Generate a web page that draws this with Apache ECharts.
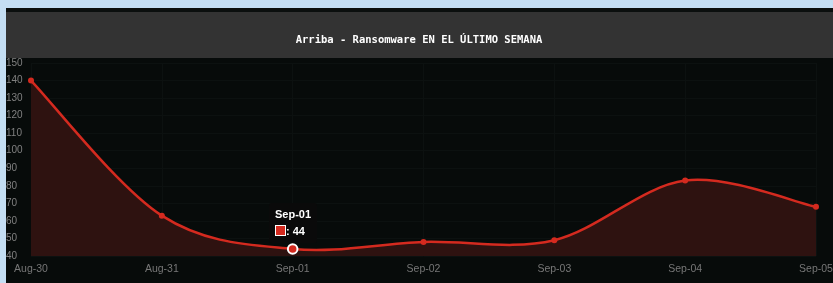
<!DOCTYPE html>
<html>
<head>
<meta charset="utf-8">
<script src="https://cdn.jsdelivr.net/npm/echarts@6/dist/echarts.min.js"></script>
<style>
  html, body { margin: 0; padding: 0; }
  body { width: 833px; height: 283px; background: #c4def3; overflow: hidden; position: relative; }
  #chart { position: absolute; left: 6px; top: 8px; width: 827px; height: 275px; background: #070b0a; }
</style>
</head>
<body>
<div id="chart"></div>
<script>
const titleText = "Arriba - Ransomware EN EL ÚLTIMO SEMANA";
const days = ["Aug-30", "Aug-31", "Sep-01", "Sep-02", "Sep-03", "Sep-04", "Sep-05"];
const attacks = [140, 63, 44, 48, 49, 83, 68];
const yMin = 40;
const yMax = 150;
const yStep = 10;

const lineColor = "#d42a1f";
const areaColor = "#2e1210";

const chart = echarts.init(document.getElementById("chart"));

// spline (catmull-rom) through the data points, drawn on the chart's own axes
function renderSpline(params, api) {
  if (params.dataIndex !== 0) return null;
  const pts = attacks.map((v, i) => api.coord([i, v]));
  const base = api.coord([0, yMin])[1];
  let d = "M" + pts[0][0] + " " + pts[0][1];
  for (let i = 0; i < pts.length - 1; i++) {
    const p0 = pts[i - 1] || pts[i];
    const p1 = pts[i];
    const p2 = pts[i + 1];
    const p3 = pts[i + 2] || pts[i + 1];
    const c1x = p1[0] + (p2[0] - p0[0]) / 6;
    const c1y = p1[1] + (p2[1] - p0[1]) / 6;
    const c2x = p2[0] - (p3[0] - p1[0]) / 6;
    const c2y = p2[1] - (p3[1] - p1[1]) / 6;
    d += " C" + c1x + " " + c1y + " " + c2x + " " + c2y + " " + p2[0] + " " + p2[1];
  }
  const last = pts[pts.length - 1];
  const area = d + " L" + last[0] + " " + base + " L" + pts[0][0] + " " + base + " Z";
  return {
    type: "group",
    children: [
      { type: "path", shape: { pathData: area }, style: { fill: areaColor, stroke: null } },
      { type: "path", shape: { pathData: d }, style: { fill: null, stroke: lineColor, lineWidth: 2.5 } }
    ]
  };
}

const option = {
  animation: false,
  backgroundColor: "#070b0a",
  graphic: [
    { type: "rect", left: 0, top: 0, shape: { width: 827, height: 4 }, style: { fill: "#0b0f0e" } },
    { type: "rect", left: 0, top: 4, shape: { width: 827, height: 46 }, style: { fill: "#333333" } }
  ],
  title: {
    text: titleText,
    left: 408,
    textAlign: "center",
    top: 22,
    textStyle: {
      color: "#ffffff",
      fontFamily: "DejaVu Sans Mono",
      fontWeight: "bold",
      fontSize: 10.5
    }
  },
  tooltip: {
    trigger: "item",
    triggerOn: "none",
    alwaysShowContent: true,
    backgroundColor: "#0a0a0a",
    borderWidth: 0,
    padding: [3, 6],
    extraCssText: "box-shadow:none;border-radius:3px;",
    textStyle: { color: "#fff", fontSize: 11, fontWeight: "bold", fontFamily: "Liberation Sans" },
    position: function (point, params, dom, rect, size) {
      return [point[0] - size.contentSize[0] / 2, point[1] - size.contentSize[1] - 6];
    },
    formatter: function (p) {
      return '<div style="text-align:center;line-height:17px">' + p.name + '</div>' +
        '<div style="line-height:17px"><span style="display:inline-block;width:9px;height:9px;background:' + lineColor + ';border:1px solid #fff;vertical-align:-1px"></span>: ' + p.value + '</div>';
    }
  },
  grid: { left: 25, right: 17, top: 55, bottom: 27, outerBoundsMode: "none", containLabel: false },
  xAxis: {
    type: "category",
    data: days,
    boundaryGap: false,
    axisLine: { show: false },
    axisTick: { show: false },
    splitLine: { show: true, lineStyle: { color: "#0c1110" } },
    axisLabel: {
      color: "#777777",
      fontSize: 10.5,
      fontFamily: "Liberation Sans",
      margin: 8,
      interval: 0
    }
  },
  yAxis: {
    type: "value",
    min: yMin,
    max: yMax,
    interval: yStep,
    axisLine: { show: false },
    axisTick: { show: false },
    splitLine: { show: true, lineStyle: { color: "#0c1110" } },
    axisLabel: {
      color: "#808080",
      fontSize: 10,
      fontFamily: "Liberation Sans",
      align: "left",
      margin: 25
    }
  },
  series: [
    {
      type: "custom",
      silent: true,
      z: 1,
      data: attacks.map((v, i) => [i, v]),
      renderItem: renderSpline,
      tooltip: { show: false }
    },
    {
      type: "line",
      z: 3,
      data: attacks,
      symbol: "circle",
      symbolSize: 6,
      lineStyle: { width: 0, opacity: 0 },
      itemStyle: { color: lineColor },
      emphasis: {
        scale: 1.6,
        lineStyle: { width: 0, opacity: 0 },
        itemStyle: { color: lineColor, borderColor: "#ffffff", borderWidth: 2 }
      }
    }
  ]
};

chart.setOption(option);
chart.dispatchAction({ type: "highlight", seriesIndex: 1, dataIndex: 2 });
chart.dispatchAction({ type: "showTip", seriesIndex: 1, dataIndex: 2 });
</script>
</body>
</html>
